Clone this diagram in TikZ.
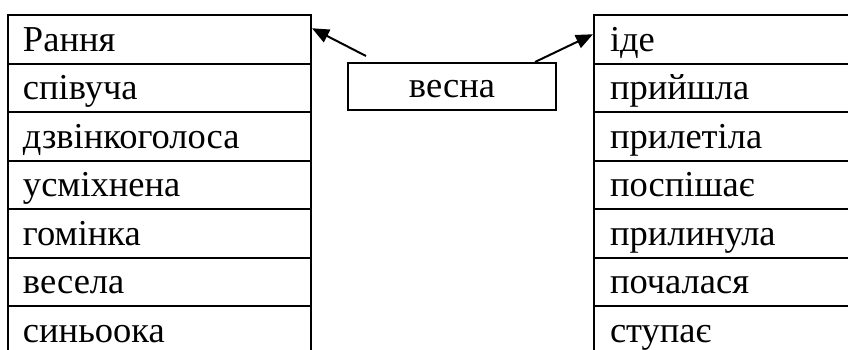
\documentclass[tikz,border=0pt]{standalone}
\usepackage{fontspec}
\setmainfont{Liberation Serif}
\usetikzlibrary{arrows.meta}

\begin{document}
\begin{tikzpicture}[
        x=1pt, y=-1pt,
        font=\fontsize{36.5}{40}\selectfont,
        line width=2pt,
        cell/.style={
            draw,
            anchor=north west,
            minimum height=48.5pt,
            inner xsep=15pt,
            align=left,
            text height=30pt,
            text depth=6.5pt
        },
        arr/.style={
            -{Triangle[length=17pt,width=14pt]}
        }
    ]

    \useasboundingbox (0,0) rectangle (848,349);
    \clip (0,0) rectangle (848,349);

    % Ліва таблиця
    \foreach \w [count=\i] in {Рання, співуча, дзвінкоголоса, усміхнена, гомінка, весела, синьоока}
        \node[cell, text width=273pt] (l\i) at ({7}, {14+(\i-1)*48.5}) {\w};

    % Права таблиця
    \foreach \w [count=\i] in {іде, прийшла, прилетіла, поспішає, прилинула, почалася, ступає}
        \node[cell, text width=290pt, inner xsep=16pt] (r\i) at ({593}, {14+(\i-1)*48.5}) {\w};

    % Середина
    \node[draw, minimum width=208pt, minimum height=47pt,
          text height=28pt, text depth=7pt] (vesna) at (452, 86.5) {весна};

    \draw[arr] ([xshift=19pt, yshift=6pt]vesna.north west) -- ([yshift=11pt]l1.east);
    \draw[arr] ([xshift=-22pt]vesna.north east) -- ([yshift=5pt]r1.west);

\end{tikzpicture}
\end{document}
